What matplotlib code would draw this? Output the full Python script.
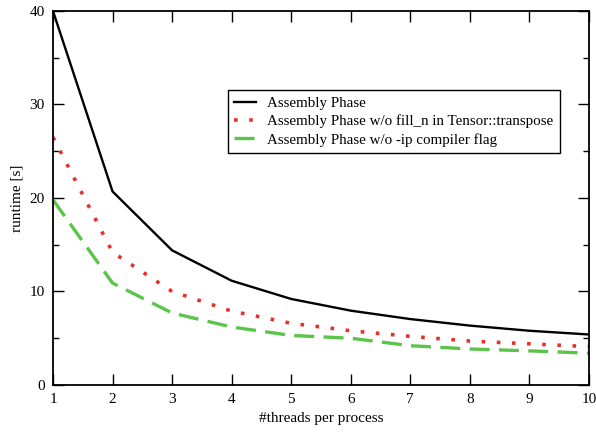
import matplotlib
matplotlib.use("Agg")
import matplotlib.pyplot as plt
from matplotlib.ticker import MultipleLocator

plt.rcParams['font.family'] = ['Liberation Serif', 'DejaVu Serif']

threads = [1, 2, 3, 4, 5, 6, 7, 8, 9, 10]
assembly = [40.0, 20.7, 14.4, 11.15, 9.2, 7.95, 7.05, 6.35, 5.8, 5.4]
no_fill_n = [26.5, 14.2, 10.0, 7.9, 6.6, 5.8, 5.2, 4.7, 4.4, 4.1]
no_ip = [19.8, 10.9, 7.7, 6.2, 5.3, 5.0, 4.2, 3.85, 3.65, 3.4]

fig = plt.figure(figsize=(5.96, 4.33), dpi=100)
ax = fig.add_axes([0.0889, 0.1109, 0.8993, 0.8637])

ax.plot(threads, assembly, color='black', lw=1.7, label='Assembly Phase')
ax.plot(threads, no_fill_n, color='#e8302a', lw=2.6, linestyle=(0, (1.0, 3.2)),
        label='Assembly Phase w/o fill_n in Tensor::transpose')
ax.plot(threads, no_ip, color='#5cc44a', lw=2.4, linestyle=(0, (6.0, 2.8)),
        label='Assembly Phase w/o -ip compiler flag')

ax.set_xlim(1, 10)
ax.set_ylim(0, 40)
ax.xaxis.set_major_locator(MultipleLocator(1))
ax.yaxis.set_major_locator(MultipleLocator(10))
ax.yaxis.set_minor_locator(MultipleLocator(5))
ax.tick_params(which='both', direction='in', top=True, right=True, labelsize=11, width=1.0)
ax.tick_params(which='major', length=8, pad=6)
ax.tick_params(which='minor', length=4)
for s in ax.spines.values():
    s.set_linewidth(1.3)

ax.set_xlabel('#threads per process', fontsize=11)
ax.set_ylabel('runtime [s]', fontsize=11)

leg = ax.legend(loc='upper left', bbox_to_anchor=(0.326, 0.789), borderaxespad=0,
                fontsize=10.8, frameon=True, fancybox=False, framealpha=1,
                handlelength=1.45, handletextpad=0.75, borderpad=0.45,
                labelspacing=0.3)
leg.get_frame().set_edgecolor('black')
leg.get_frame().set_linewidth(1.0)

fig.savefig('out.png', dpi=100)
